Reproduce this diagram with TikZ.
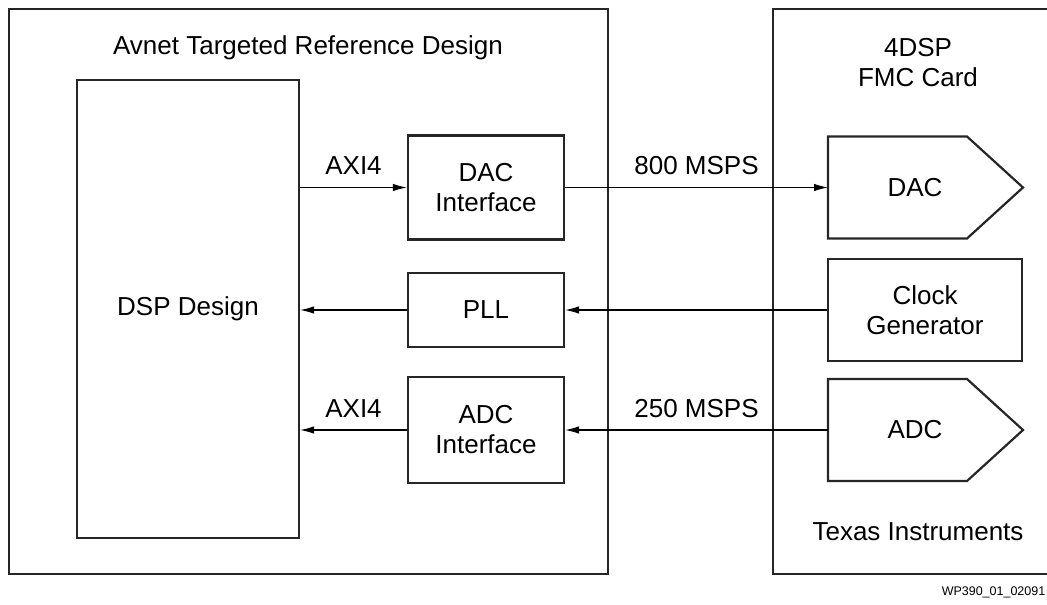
\documentclass[tikz,border=0pt]{standalone}
\usepackage{fontspec}
\setmainfont{Liberation Sans}
\usetikzlibrary{arrows.meta, positioning}
\tikzstyle{frame} = [rectangle, draw=black!85, line width=2.2pt]
\tikzstyle{block} = [rectangle, draw=black!85, line width=2.2pt, text centered, align=center, inner sep=0pt]
\tikzstyle{outline} = [draw=black!85, line width=2.2pt, line join=miter]
\tikzstyle{arrow} = [line width=1.2pt, -{Latex[length=14pt,width=7.5pt]}]
\tikzstyle{rate} = [above=9pt, inner sep=3pt]

% converter outline around a text node: body 139 wide, point 56 deep, 102 high
\newcommand{\converter}[1]{%
\draw [outline] ([shift={(-87,-51)}]#1.center) -- ([shift={(52,-51)}]#1.center)
-- ([shift={(108,0)}]#1.center) -- ([shift={(52,51)}]#1.center)
-- ([shift={(-87,51)}]#1.center) -- cycle;}

\begin{document}
\begin{tikzpicture}[x=1pt, y=-1pt, font=\fontsize{26}{30}\selectfont]
\clip (0,0) rectangle (1047,605);

\node (trd) [frame, minimum width=599pt, minimum height=565pt] at (308.5,291.5) {};
\node (fmc) [frame, minimum width=297pt, minimum height=565pt] at (921.5,291.5) {};

\node (trdtitle) at (308,48) {Avnet Targeted Reference Design};
\node (fmctitle) [align=center] at (918,63) {4DSP\\FMC Card};
\node (ti) at (918,532) {Texas Instruments};

\node (dsp) [block, minimum width=222pt, minimum height=458pt] at (188,309) {DSP Design};
\node (dacif) [block, minimum width=156pt, minimum height=104pt] at (486,187.5) {DAC\\Interface};
\node (pll) [block, minimum width=156pt, minimum height=74pt] at (486,310) {PLL};
\node (adcif) [block, minimum width=156pt, minimum height=106pt] at (486,430) {ADC\\Interface};

\node (dac) at (915,187.5) {DAC};
\coordinate (dacin) at ([xshift=-87pt]dac.center);
\converter{dac}
\node (clk) [block, minimum width=194pt, minimum height=102pt] at (925,310) {Clock\\Generator};
\node (adc) at (915,430) {ADC};
\coordinate (adcout) at ([xshift=-87pt]adc.center);
\converter{adc}

\draw [arrow] (dsp.east |- dacif) -- node (axiout) [rate] {AXI4} (dacif);
\draw [arrow] (dacif) -- node (dacrate) [rate] {800 MSPS} (dacin);
\draw [arrow] (clk) -- (pll);
\draw [arrow] (pll) -- (dsp.east |- pll);
\draw [arrow] (adcout) -- node (adcrate) [rate] {250 MSPS} (adcif);
\draw [arrow] (adcif) -- node (axiin) [rate] {AXI4} (dsp.east |- adcif);

\node (fig) [anchor=east, inner sep=1pt, font=\fontsize{12.5}{15}\selectfont] at (1046.5,592) {WP390\_01\_02091};

\end{tikzpicture}
\end{document}
